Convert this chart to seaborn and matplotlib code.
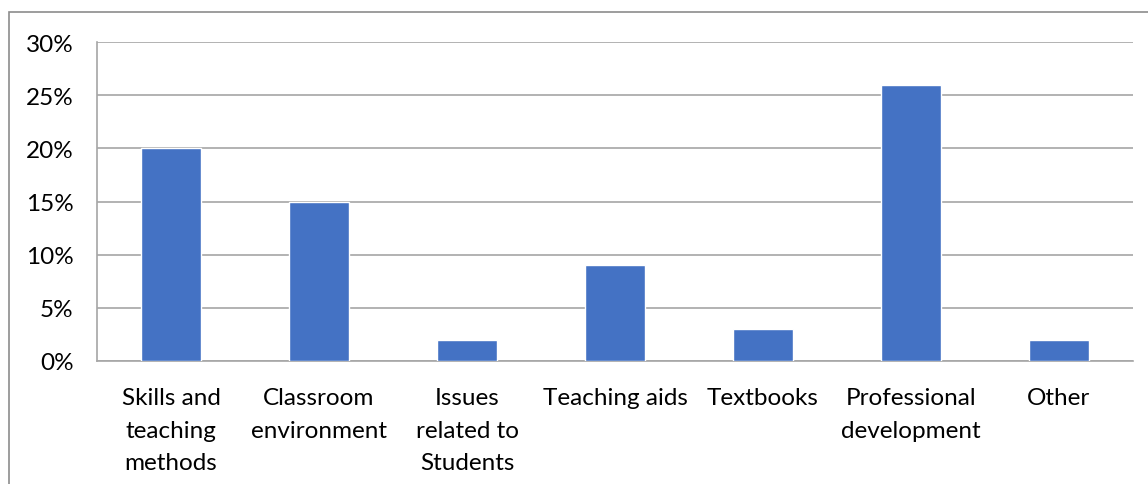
import matplotlib
matplotlib.use("Agg")
import matplotlib.pyplot as plt
from matplotlib.patches import Rectangle
from matplotlib.ticker import FixedLocator
import seaborn as sns
import pandas as pd

categories = ["Skills and\nteaching\nmethods", "Classroom\nenvironment", "Issues\nrelated to\nStudents",
              "Teaching aids", "Textbooks", "Professional\ndevelopment", "Other"]
values = [20, 15, 2, 9, 3, 26, 2]
yticks = [0, 5, 10, 15, 20, 25, 30]
ytick_labels = ["0%", "5%", "10%", "15%", "20%", "25%", "30%"]

sns.set_style("white")
plt.rcParams['font.family'] = ['Lato', 'DejaVu Sans']

df = pd.DataFrame({"cat": categories, "val": values})

fig = plt.figure(figsize=(11.48, 4.85), dpi=100)
ax = fig.add_axes([97/1148, 1 - 362/485, (1133-97)/1148, (362-43)/485])

sns.barplot(data=df, x="cat", y="val", color="#4472C4", width=0.4, saturation=1, ax=ax, zorder=3)

gridc = "#A6A6A6"
fs = 17.5
ax.set_ylim(0, 30)
ax.set_xlim(-0.5, len(categories) - 0.5)
ax.set_yticks(yticks)
ax.set_yticklabels(ytick_labels, fontsize=fs)
ax.yaxis.grid(True, color=gridc, linewidth=1.2, zorder=0)
ax.set_axisbelow(True)
ax.tick_params(axis="y", length=6, color=gridc, width=1.2, pad=11, labelcolor="black")
ax.tick_params(axis="x", which="major", length=0, pad=19, labelsize=fs, labelcolor="black")
ax.xaxis.set_minor_locator(FixedLocator([i - 0.5 for i in range(len(categories) + 1)]))
ax.tick_params(axis="x", which="minor", length=6, color=gridc, width=1.2)
for lbl in ax.get_xticklabels():
    lbl.set_linespacing(1.66)
ax.set_xlabel("")
ax.set_ylabel("")
for s in ["top", "right"]:
    ax.spines[s].set_visible(False)
for s in ["left", "bottom"]:
    ax.spines[s].set_color(gridc)
    ax.spines[s].set_linewidth(1.2)

border = Rectangle((9/1148, -0.2), 2, 1 - 13/485 + 0.2, transform=fig.transFigure,
                   fill=False, edgecolor="#8C8C8C", linewidth=1.2, clip_on=False)
fig.patches.append(border)

fig.savefig("out.png", dpi=100)
